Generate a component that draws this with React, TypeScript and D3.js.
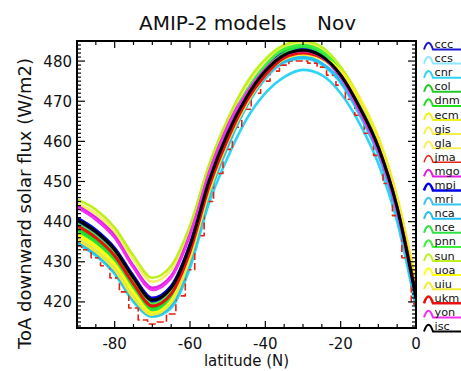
import React from 'react';
import * as d3 from 'd3';

const LATS = [-90, -85, -80, -75, -70, -65, -60, -55, -50, -45, -40, -35, -30, -25, -20, -15, -10, -5, 0];
const JMA_LATS = [-90, -87.5, -85, -82.5, -80, -77.5, -75, -72.5, -70, -67.5, -65, -62.5, -60, -57.5, -55, -52.5, -50, -47.5, -45, -42.5, -40, -37.5, -35, -32.5, -30, -27.5, -25, -22.5, -20, -17.5, -15, -12.5, -10, -7.5, -5, -2.5, 0];

const MODELS = ['ccc', 'ccs', 'cnr', 'col', 'dnm', 'ecm', 'gis', 'gla', 'jma', 'mgo', 'mpi', 'mri', 'nca', 'nce', 'pnn', 'sun', 'uoa', 'uiu', 'ukm', 'yon', 'isc'];
const COLORS = ['#1a1ad0', '#8ee6ff', '#2fd4f4', '#22c82a', '#1fe01f', '#f2f21a', '#f6f048', '#f4f060', '#e8200e', '#e020e0', '#0000e8', '#38c4f0', '#22c0ec', '#2ee044', '#3cf03c', '#bef020', '#ffff10', '#f2ea34', '#ea1010', '#f430f4', '#000000'];

const ccc = [440, 437, 432.5, 425.5, 420, 423, 433.5, 449.5, 461.5, 470.5, 477, 481, 482.2, 480.8, 476, 468, 458, 443, 420.5];
const ccs = [435, 432, 427.5, 420.5, 416.5, 419, 429.5, 446, 458.5, 468.5, 475.5, 479.5, 480.5, 479, 474.5, 466.5, 456.5, 441.5, 419.5];
const cnr = [434.5, 431.5, 427, 420, 416.3, 418.5, 428.5, 444.5, 456, 465.5, 472, 476, 477.8, 476.5, 472, 464.5, 454.5, 440, 418.5];
const col = [438.5, 435.5, 431, 424, 418.5, 421.5, 433, 450, 462.5, 472, 478.5, 482.5, 483.5, 482, 477, 469, 459, 444, 422];
const dnm = [438, 435, 430.5, 423.5, 418, 421, 432.5, 449.5, 462, 471.5, 478.5, 482.7, 484, 482.5, 477.5, 469.5, 459, 444, 422.5];
const ecm = [436.5, 433.5, 429, 422, 417, 420, 431, 447.5, 460, 469.5, 476.5, 480.5, 481.5, 480.5, 476.5, 469.5, 460, 445, 423];
const gis = [436, 433, 428.5, 421.5, 416.5, 419.5, 430.5, 447, 459.5, 469, 476, 480.3, 481.5, 480.5, 477, 470, 460.5, 445.5, 424];
const gla = [444.5, 442, 437.5, 430.5, 425, 428, 438.5, 453.5, 465, 474, 480, 483.5, 484.5, 483, 478.5, 471, 461, 446, 424];
const jma = [434, 433, 431, 429, 426, 422.5, 418.5, 415.5, 414.5, 415, 417, 421.5, 428, 436.5, 445, 452, 458, 463.5, 468, 472, 475, 477.5, 479, 480, 480, 479.5, 478.5, 476.5, 474, 470.5, 466.5, 462, 456.5, 449.5, 441.5, 431, 419.5];
const mgo = [444, 441, 436.5, 429, 423.5, 426.5, 437, 452.5, 464, 472.5, 478.5, 482, 483, 481.5, 476.5, 468, 458, 443, 421.5];
const mpi = [441, 438, 433.5, 426.5, 421, 424, 434.5, 450.5, 462.5, 471.5, 478, 482, 483, 481.5, 477, 469, 459, 444, 421.5];
const mri = [435.5, 432.5, 428, 421, 416.8, 419.5, 430, 446.5, 459, 469, 476, 480, 481, 479.5, 475, 467, 457, 442, 420];
const nca = [435, 432, 427.5, 420.5, 416.5, 419.2, 429.8, 446.3, 458.8, 468.8, 475.8, 479.8, 480.8, 479.3, 474.8, 466.8, 456.8, 441.8, 419.8];
const nce = [437.5, 434.5, 430, 423, 417.8, 421, 432, 449, 461.5, 471, 478, 482, 483.5, 482, 477, 469, 458.5, 443.5, 421.5];
const pnn = [439.5, 436.5, 432, 425, 419.5, 422.5, 433.5, 450.5, 463, 472.5, 479, 483, 484, 482.5, 477.5, 469.5, 459.5, 444.5, 422.5];
const sun = [445.5, 443, 438.5, 431.5, 426, 429, 439, 454, 465.5, 474.5, 480.5, 484, 485, 483.5, 478.5, 470.5, 460.5, 445.5, 423];
const uoa = [437, 434, 429.5, 422.5, 417.3, 420.3, 431.2, 447.8, 460.5, 470, 477, 481, 482, 481, 477.5, 470.5, 461, 446, 425];
const uiu = [435.5, 432.5, 428, 421, 416.8, 419.8, 430.8, 447.2, 459.8, 469.3, 476.3, 480.5, 481.7, 480.8, 477.2, 470.2, 460.8, 446, 424.5];
const ukm = [439, 436, 431.5, 424.5, 419, 422, 432.5, 448.5, 460.5, 470, 476.5, 480.8, 482, 480.8, 476.5, 468.5, 458.5, 443.5, 422];
const yon = [443.5, 440.5, 436, 428.5, 423, 426, 436.5, 452, 463.5, 472, 478, 481.5, 482.5, 481, 476, 467.5, 457.5, 442.5, 421];
const isc = [440.5, 437.5, 433, 426, 420.5, 423.5, 434, 450, 462, 471, 477.5, 481.5, 482.7, 481.2, 476.5, 468.5, 458.5, 443.5, 421];

const SERIES: Record<string, number[]> = { ccc, ccs, cnr, col, dnm, ecm, gis, gla, jma, mgo, mpi, mri, nca, nce, pnn, sun, uoa, uiu, ukm, yon, isc };

const X_TICKS = [-80, -60, -40, -20, 0];
const Y_TICKS = [420, 430, 440, 450, 460, 470, 480];
const TITLE_LEFT = 'AMIP-2 models';
const TITLE_RIGHT = 'Nov';
const X_LABEL = 'latitude (N)';
const Y_LABEL = 'ToA downward solar flux (W/m2)';

const W = 461, H = 371;
const L = 77, R = 416, T = 41, B = 328;
const FONT = 'DejaVu Sans, Verdana, sans-serif';

export default function App() {
  const x = d3.scaleLinear().domain([-90, 0]).range([L, R]);
  const y = d3.scaleLinear().domain([413.5, 485]).range([B, T]);

  const smooth = d3.line<[number, number]>().x(d => x(d[0])).y(d => y(d[1])).curve(d3.curveMonotoneX);
  const step = d3.line<[number, number]>().x(d => x(d[0])).y(d => y(d[1])).curve(d3.curveStep);

  const xMinor = d3.range(-85, 0, 5).filter(v => v % 20 !== 0);
  const xMajor = [-80, -60, -40, -20];
  const yMinor = d3.range(414, 486, 1).filter(v => v % 10 !== 0);

  const legendY0 = 45, legendDy = 14.1;

  return (
    <svg width={W} height={H} style={{ position: 'absolute', left: 0, top: 0, background: '#fff' }} fontFamily={FONT}>
      <defs>
        <clipPath id="plotclip">
          <rect x={L} y={T} width={R - L} height={B - T} />
        </clipPath>
      </defs>
      <rect x={0} y={0} width={W} height={H} fill="#fff" />

      <g clipPath="url(#plotclip)" fill="none" strokeLinejoin="round" strokeLinecap="round">
        {MODELS.map((m, i) => {
          const vals = SERIES[m];
          if (m === 'jma') {
            const pts = JMA_LATS.map((lat, k) => [lat, vals[k]] as [number, number]);
            return <path key={m} d={step(pts) || ''} stroke={COLORS[i]} strokeWidth={1.6} strokeDasharray="7,3" strokeLinecap="butt" />;
          }
          const pts = LATS.map((lat, k) => [lat, vals[k]] as [number, number]);
          const sw = m === 'isc' || m === 'ukm' ? 3 : 2.6;
          return <path key={m} d={smooth(pts) || ''} stroke={COLORS[i]} strokeWidth={sw} />;
        })}
      </g>

      <rect x={L} y={T} width={R - L} height={B - T} fill="none" stroke="#000" strokeWidth={2} />
      <g stroke="#000" strokeWidth={1.2}>
        {xMajor.map(v => (
          <g key={'xM' + v}>
            <line x1={x(v)} x2={x(v)} y1={B} y2={B - 7} />
            <line x1={x(v)} x2={x(v)} y1={T} y2={T + 7} />
          </g>
        ))}
        {xMinor.map(v => (
          <g key={'xm' + v}>
            <line x1={x(v)} x2={x(v)} y1={B} y2={B - 4} />
            <line x1={x(v)} x2={x(v)} y1={T} y2={T + 4} />
          </g>
        ))}
        {Y_TICKS.map(v => (
          <g key={'yM' + v}>
            <line x1={L} x2={L + 8} y1={y(v)} y2={y(v)} />
            <line x1={R} x2={R - 8} y1={y(v)} y2={y(v)} />
          </g>
        ))}
        {yMinor.map(v => (
          <g key={'ym' + v}>
            <line x1={L} x2={L + 4} y1={y(v)} y2={y(v)} />
            <line x1={R} x2={R - 4} y1={y(v)} y2={y(v)} />
          </g>
        ))}
      </g>

      <g fontSize={15} fill="#111">
        {X_TICKS.map(v => (
          <text key={'xl' + v} x={x(v)} y={349} textAnchor="middle">{String(v)}</text>
        ))}
        {Y_TICKS.map(v => (
          <text key={'yl' + v} x={72} y={y(v) + 5.5} textAnchor="end">{String(v)}</text>
        ))}
      </g>

      <text x={139} y={30} fontSize={20} fill="#111">{TITLE_LEFT}</text>
      <text x={317} y={30} fontSize={20} fill="#111">{TITLE_RIGHT}</text>
      <text x={(L + R) / 2} y={366} fontSize={15} textAnchor="middle" fill="#111">{X_LABEL}</text>
      <text transform={`translate(31,349) rotate(-90)`} fontSize={18} fill="#111">{Y_LABEL}</text>

      <g>
        {MODELS.map((m, i) => {
          const cy = legendY0 + i * legendDy;
          const base = cy + 4.5;
          const sw = m === 'mpi' || m === 'ukm' ? 2.6 : m === 'jma' ? 1.4 : 2;
          return (
            <g key={'lg' + m}>
              <path d={`M424,${base} Q428.5,${cy - 9} 433,${base} L461,${base}`} fill="none" stroke={COLORS[i]} strokeWidth={sw} />
              <text x={434.5} y={cy + 3} fontSize={11.3} fill="#111">{m}</text>
            </g>
          );
        })}
      </g>
    </svg>
  );
}
